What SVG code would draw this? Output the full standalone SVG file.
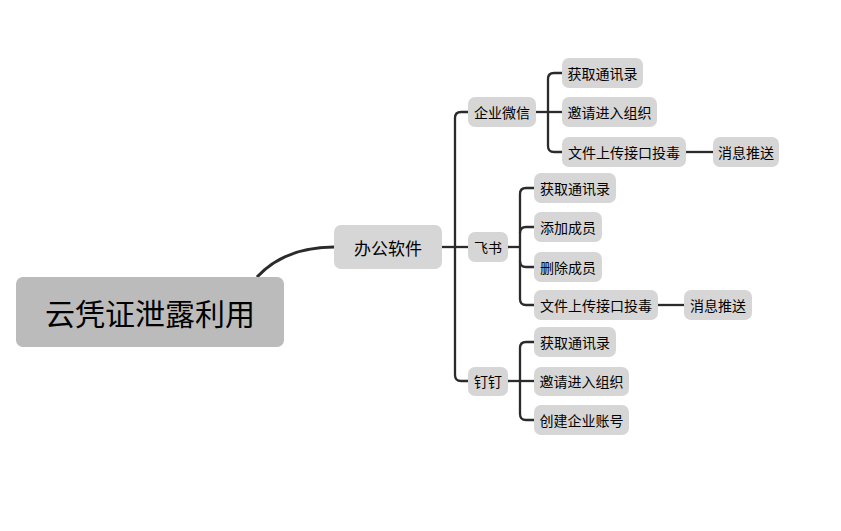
<svg xmlns="http://www.w3.org/2000/svg" width="841" height="531" viewBox="0 0 841 531">
<style>
.n{fill:#d6d6d6}
.r{fill:#bbbbbb}
text{font-family:"Microsoft YaHei","Noto Sans CJK SC",sans-serif;fill:#000;text-anchor:middle;dominant-baseline:central}
.t{font-size:14px}
.m{font-size:17px}
.b{font-size:30px}
.c path{fill:none;stroke:#2b2b2b;stroke-width:2.3}
.c path.main{stroke-width:3}
</style>
<rect width="841" height="531" fill="#fff"/>
<g class="c" id="connectors">
<path class="main" d="M257,277 Q285,247 334,247"/>
<path d="M442,247 H468"/>
<path d="M468,112 H461 Q455,112 455,118 V375 Q455,381 461,381 H468"/>
<path d="M536,112 H562"/>
<path d="M562,73 H554 Q548,73 548,79 V146 Q548,152 554,152 H562"/>
<path d="M686,152 H713"/>
<path d="M508,247 H520"/>
<path d="M534,188 H526 Q520,188 520,194 V299 Q520,305 526,305 H534"/>
<path d="M520,233 Q520,227 526,227 H534"/>
<path d="M520,261 Q520,267 526,267 H534"/>
<path d="M658,305 H684"/>
<path d="M508,381 H534"/>
<path d="M534,342 H526 Q520,342 520,348 V414 Q520,420 526,420 H534"/>
</g>
<g id="root"><rect class="r" x="16" y="277" width="268" height="70" rx="7"/><text class="b" x="150" y="312">云凭证泄露利用</text></g>
<g id="bangong"><rect class="n" x="334" y="225" width="108" height="44" rx="7"/><text class="m" x="388" y="247">办公软件</text></g>
<g id="qywx"><rect class="n" x="468" y="97" width="68" height="30" rx="7"/><text class="t" x="502" y="112">企业微信</text></g>
<g id="qywx1"><rect class="n" x="562" y="58" width="81" height="30" rx="7"/><text class="t" x="602.5" y="73">获取通讯录</text></g>
<g id="qywx2"><rect class="n" x="562" y="97" width="95" height="30" rx="7"/><text class="t" x="609.5" y="112">邀请进入组织</text></g>
<g id="qywx3"><rect class="n" x="562" y="137" width="124" height="30" rx="7"/><text class="t" x="624" y="152">文件上传接口投毒</text></g>
<g id="qywx4"><rect class="n" x="713" y="137" width="66" height="30" rx="7"/><text class="t" x="746" y="152">消息推送</text></g>
<g id="feishu"><rect class="n" x="468" y="232" width="40" height="30" rx="7"/><text class="t" x="488" y="247">飞书</text></g>
<g id="fs1"><rect class="n" x="534" y="173" width="82" height="30" rx="7"/><text class="t" x="575" y="188">获取通讯录</text></g>
<g id="fs2"><rect class="n" x="534" y="212" width="68" height="30" rx="7"/><text class="t" x="568" y="227">添加成员</text></g>
<g id="fs3"><rect class="n" x="534" y="252" width="68" height="30" rx="7"/><text class="t" x="568" y="267">删除成员</text></g>
<g id="fs4"><rect class="n" x="534" y="290" width="124" height="30" rx="7"/><text class="t" x="596" y="305">文件上传接口投毒</text></g>
<g id="fs5"><rect class="n" x="684" y="290" width="68" height="30" rx="7"/><text class="t" x="718" y="305">消息推送</text></g>
<g id="dingding"><rect class="n" x="468" y="367" width="40" height="29" rx="7"/><text class="t" x="488" y="381">钉钉</text></g>
<g id="dd1"><rect class="n" x="534" y="327" width="82" height="30" rx="7"/><text class="t" x="575" y="342">获取通讯录</text></g>
<g id="dd2"><rect class="n" x="534" y="367" width="95" height="29" rx="7"/><text class="t" x="581.5" y="381">邀请进入组织</text></g>
<g id="dd3"><rect class="n" x="534" y="405" width="95" height="30" rx="7"/><text class="t" x="581.5" y="420">创建企业账号</text></g>
</svg>
